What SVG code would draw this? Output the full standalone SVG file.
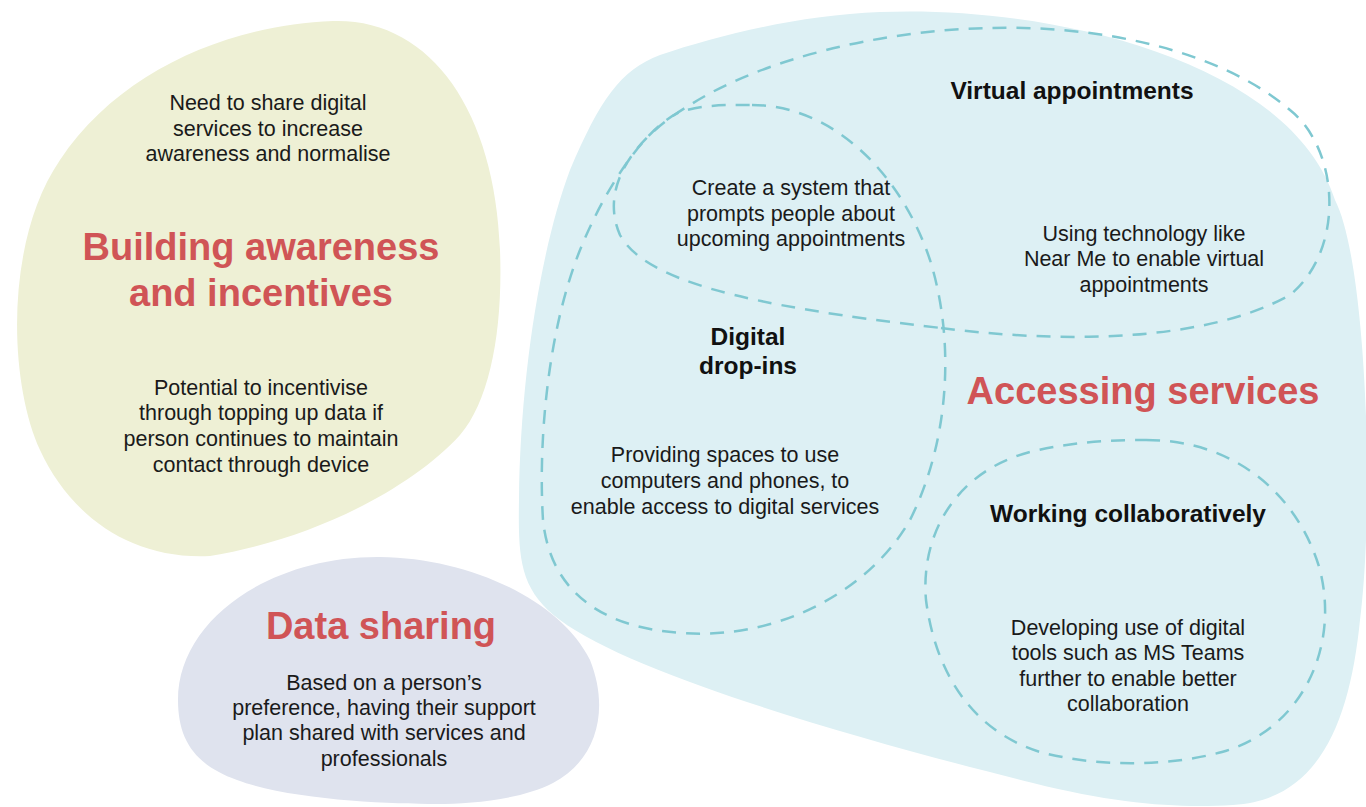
<svg xmlns="http://www.w3.org/2000/svg" width="1366" height="807" viewBox="0 0 1366 807">
<style>
.body{font-family:"Liberation Sans",Arial,sans-serif;font-size:21.5px;fill:#1a1a1a;text-anchor:middle}
.title{font-family:"Liberation Sans",Arial,sans-serif;font-size:38px;font-weight:bold;fill:#d05456;text-anchor:middle}
.label{font-family:"Liberation Sans",Arial,sans-serif;font-size:24.5px;font-weight:bold;fill:#111;text-anchor:middle}
.dash{fill:none;stroke:#7fc8d1;stroke-width:2.5;stroke-dasharray:14 10}
</style>
<rect width="1366" height="807" fill="#ffffff"/>
<g id="building-awareness">
<path d="M 333 21 C 430 18 495 110 500 250 C 503 330 490 400 460 435 C 410 490 310 540 210 556 C 130 560 70 515 40 450 C 8 380 5 240 60 160 C 120 70 230 25 333 21 Z" fill="#eef0d5"/>
<text class="body" x="268" y="110">Need to share digital</text>
<text class="body" x="268" y="136">services to increase</text>
<text class="body" x="268" y="161">awareness and normalise</text>
<text class="title" x="261" y="260">Building awareness</text>
<text class="title" x="261" y="306">and incentives</text>
<text class="body" x="261" y="395">Potential to incentivise</text>
<text class="body" x="261" y="420">through topping up data if</text>
<text class="body" x="261" y="446">person continues to maintain</text>
<text class="body" x="261" y="472">contact through device</text>
</g>
<g id="data-sharing">
<path d="M 380 557 C 470 558 560 600 590 660 C 610 710 597 760 553 783 C 520 800 470 804 437 804 C 390 804 290 800 237 780 C 195 765 178 740 178 700 C 178 620 270 556 380 557 Z" fill="#dfe3ee"/>
<text class="title" x="381" y="639">Data sharing</text>
<text class="body" x="384" y="690">Based on a person’s</text>
<text class="body" x="384" y="715">preference, having their support</text>
<text class="body" x="384" y="740">plan shared with services and</text>
<text class="body" x="384" y="766">professionals</text>
</g>
<g id="accessing-services">
<path d="M 880 12 C 1050 5 1290 60 1335 200 C 1366 260 1375 500 1360 620 C 1350 720 1320 800 1233 805 C 1180 808 1120 805 1033 783 C 900 750 640 680 560 620 C 520 590 518 560 519 500 C 520 380 540 250 570 170 C 600 100 620 70 660 55 C 720 35 800 15 880 12 Z" fill="#ddf0f4"/>
<text class="title" x="1143" y="404">Accessing services</text>
</g>
<g id="connectors">
<path class="dash" d="M 941 328 C 1050 342 1200 345 1290 295 C 1345 250 1340 150 1290 110 C 1220 50 1100 25 990 28 C 880 30 760 60 690 105 C 630 140 600 190 620 235 C 645 280 740 305 941 328 Z"/>
<path class="dash" d="M 752 105 C 830 105 900 170 930 260 C 955 340 950 440 910 520 C 870 590 780 640 682 633 C 600 628 550 590 543 520 C 538 440 548 330 580 250 C 600 200 640 130 680 112 C 705 104 730 105 752 105 Z"/>
<path class="dash" d="M 1146 440 C 1240 440 1300 500 1320 570 C 1340 650 1300 730 1222 752 C 1170 766 1100 768 1040 752 C 970 730 935 670 926 600 C 920 530 960 470 1030 452 C 1070 442 1110 440 1146 440 Z"/>
</g>
<g id="virtual-appointments">
<text class="label" x="1072" y="99">Virtual appointments</text>
<text class="body" x="1144" y="241">Using technology like</text>
<text class="body" x="1144" y="266">Near Me to enable virtual</text>
<text class="body" x="1144" y="292">appointments</text>
</g>
<g id="appointment-prompts">
<text class="body" x="791" y="195">Create a system that</text>
<text class="body" x="791" y="221">prompts people about</text>
<text class="body" x="791" y="246">upcoming appointments</text>
</g>
<g id="digital-drop-ins">
<text class="label" x="748" y="345">Digital</text>
<text class="label" x="748" y="374">drop-ins</text>
<text class="body" x="725" y="462">Providing spaces to use</text>
<text class="body" x="725" y="488">computers and phones, to</text>
<text class="body" x="725" y="514">enable access to digital services</text>
</g>
<g id="working-collaboratively">
<text class="label" x="1128" y="522">Working collaboratively</text>
<text class="body" x="1128" y="635">Developing use of digital</text>
<text class="body" x="1128" y="660">tools such as MS Teams</text>
<text class="body" x="1128" y="686">further to enable better</text>
<text class="body" x="1128" y="711">collaboration</text>
</g>
</svg>
